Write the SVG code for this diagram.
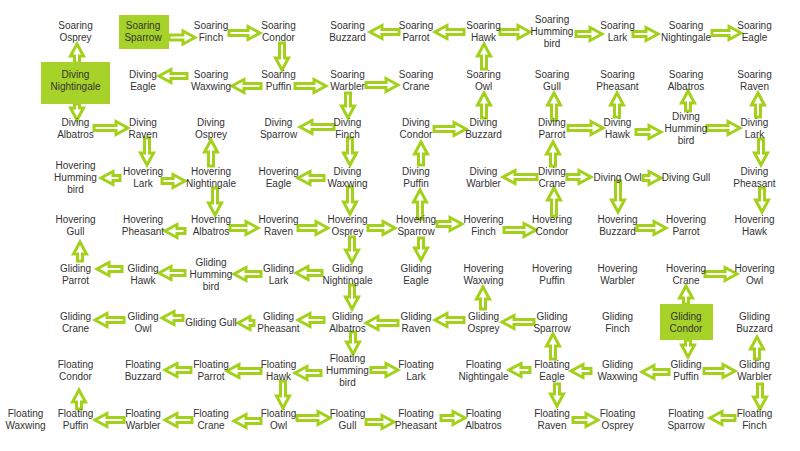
<svg xmlns="http://www.w3.org/2000/svg" width="800" height="451" viewBox="0 0 800 451">
<style>
.t{font-family:"Liberation Sans",Arial,sans-serif;font-size:10px;fill:#333;text-anchor:middle}
.hl{fill:#a6d22a}
.a{fill:#fff;stroke:#a3d11b;stroke-width:3;stroke-linejoin:miter}
</style>
<rect width="800" height="451" fill="#fff"/>
<g id="connectors" class="a">
<path d="M169,35 h14 v-4 l12,6.5 l-12,6.5 v-4 h-14z"/>
<path d="M229,30.5 h19 v-4 l12,6.5 l-12,6.5 v-4 h-19z"/>
<path d="M399,29.5 h-17 v-4 l-12,6.5 l12,6.5 v-4 h17z"/>
<path d="M464,29.5 h-17 v-4 l-12,6.5 l12,6.5 v-4 h17z"/>
<path d="M500,29.5 h18 v-4 l12,6.5 l-12,6.5 v-4 h-18z"/>
<path d="M576,31.5 h14 v-4 l12,6.5 l-12,6.5 v-4 h-14z"/>
<path d="M633,31.5 h13 v-4 l12,6.5 l-12,6.5 v-4 h-13z"/>
<path d="M712,30.5 h17 v-4 l12,6.5 l-12,6.5 v-4 h-17z"/>
<path d="M74.5,63 v-7 h-4 l6.5,-12 l6.5,12 h-4 v7z"/>
<path d="M279.5,43 v15 h-4 l6.5,12 l6.5,-12 h-4 v-15z"/>
<path d="M481.5,69 v-13 h-4 l6.5,-12 l6.5,12 h-4 v13z"/>
<path d="M187,73.5 h-16 v-4 l-12,6.5 l12,6.5 v-4 h16z"/>
<path d="M261,83.5 h-17 v-4 l-12,6.5 l12,6.5 v-4 h17z"/>
<path d="M295,83.5 h19 v-4 l12,6.5 l-12,6.5 v-4 h-19z"/>
<path d="M366,82.5 h20 v-4 l12,6.5 l-12,6.5 v-4 h-20z"/>
<path d="M74.5,104 v4 h-4 l6.5,12 l6.5,-12 h-4 v-4z"/>
<path d="M345.5,93 v13 h-4 l6.5,12 l6.5,-12 h-4 v-13z"/>
<path d="M481.5,118 v-13 h-4 l6.5,-12 l6.5,12 h-4 v13z"/>
<path d="M551.5,120 v-15 h-4 l6.5,-12 l6.5,12 h-4 v15z"/>
<path d="M614.5,117 v-12 h-4 l6.5,-12 l6.5,12 h-4 v12z"/>
<path d="M685.5,111 v-8 h-4 l6.5,-12 l6.5,12 h-4 v8z"/>
<path d="M755.5,117 v-12 h-4 l6.5,-12 l6.5,12 h-4 v12z"/>
<path d="M94,125.5 h22 v-4 l12,6.5 l-12,6.5 v-4 h-22z"/>
<path d="M334,124.5 h-22 v-4 l-12,6.5 l12,6.5 v-4 h22z"/>
<path d="M434,126.5 h20 v-4 l12,6.5 l-12,6.5 v-4 h-20z"/>
<path d="M568,125.5 h23 v-4 l12,6.5 l-12,6.5 v-4 h-23z"/>
<path d="M636,129.5 h13 v-4 l12,6.5 l-12,6.5 v-4 h-13z"/>
<path d="M707,125.5 h21 v-4 l12,6.5 l-12,6.5 v-4 h-21z"/>
<path d="M144.5,138 v15 h-4 l6.5,12 l6.5,-12 h-4 v-15z"/>
<path d="M208.5,166 v-14 h-4 l6.5,-12 l6.5,12 h-4 v14z"/>
<path d="M347.5,138 v15 h-4 l6.5,12 l6.5,-12 h-4 v-15z"/>
<path d="M418.5,165 v-11 h-4 l6.5,-12 l6.5,12 h-4 v11z"/>
<path d="M550.5,166 v-12 h-4 l6.5,-12 l6.5,12 h-4 v12z"/>
<path d="M758.5,139 v14 h-4 l6.5,12 l6.5,-12 h-4 v-14z"/>
<path d="M120,175.5 h-7 v-4 l-12,6.5 l12,6.5 v-4 h7z"/>
<path d="M162,178.5 h11 v-4 l12,6.5 l-12,6.5 v-4 h-11z"/>
<path d="M324,175.5 h-14 v-4 l-12,6.5 l12,6.5 v-4 h14z"/>
<path d="M537,174.5 h-22 v-4 l-12,6.5 l12,6.5 v-4 h22z"/>
<path d="M567,174.5 h12 v-4 l12,6.5 l-12,6.5 v-4 h-12z"/>
<path d="M643,175.5 h6 v-4 l12,6.5 l-12,6.5 v-4 h-6z"/>
<path d="M212.5,188 v15 h-4 l6.5,12 l6.5,-12 h-4 v-15z"/>
<path d="M347.5,187 v15 h-4 l6.5,12 l6.5,-12 h-4 v-15z"/>
<path d="M417.5,219 v-17 h-4 l6.5,-12 l6.5,12 h-4 v17z"/>
<path d="M551.5,216 v-16 h-4 l6.5,-12 l6.5,12 h-4 v16z"/>
<path d="M615.5,181 v19 h-4 l6.5,12 l6.5,-12 h-4 v-19z"/>
<path d="M759.5,188 v12 h-4 l6.5,12 l6.5,-12 h-4 v-12z"/>
<path d="M185,228.5 h-8 v-4 l-12,6.5 l12,6.5 v-4 h8z"/>
<path d="M230,225.5 h16 v-4 l12,6.5 l-12,6.5 v-4 h-16z"/>
<path d="M298,225.5 h18 v-4 l12,6.5 l-12,6.5 v-4 h-18z"/>
<path d="M368,225.5 h15 v-4 l12,6.5 l-12,6.5 v-4 h-15z"/>
<path d="M437,221.5 h13 v-4 l12,6.5 l-12,6.5 v-4 h-13z"/>
<path d="M504,227.5 h20 v-4 l12,6.5 l-12,6.5 v-4 h-20z"/>
<path d="M637,225.5 h17 v-4 l12,6.5 l-12,6.5 v-4 h-17z"/>
<path d="M77.5,261 v-7 h-4 l6.5,-12 l6.5,12 h-4 v7z"/>
<path d="M349.5,237 v13 h-4 l6.5,12 l6.5,-12 h-4 v-13z"/>
<path d="M418.5,238 v10 h-4 l6.5,12 l6.5,-12 h-4 v-10z"/>
<path d="M122,266.5 h-13 v-4 l-12,6.5 l12,6.5 v-4 h13z"/>
<path d="M185,270.5 h-14 v-4 l-12,6.5 l12,6.5 v-4 h14z"/>
<path d="M261,271.5 h-15 v-4 l-12,6.5 l12,6.5 v-4 h15z"/>
<path d="M322,270.5 h-14 v-4 l-12,6.5 l12,6.5 v-4 h14z"/>
<path d="M705,271.5 h20 v-4 l12,6.5 l-12,6.5 v-4 h-20z"/>
<path d="M349.5,285 v12 h-4 l6.5,12 l6.5,-12 h-4 v-12z"/>
<path d="M480.5,309 v-10 h-4 l6.5,-12 l6.5,12 h-4 v10z"/>
<path d="M683.5,304 v-6 h-4 l6.5,-12 l6.5,12 h-4 v6z"/>
<path d="M124,317.5 h-17 v-4 l-12,6.5 l12,6.5 v-4 h17z"/>
<path d="M183,315.5 h-9 v-4 l-12,6.5 l12,6.5 v-4 h9z"/>
<path d="M254,320.5 h-4 v-4 l-12,6.5 l12,6.5 v-4 h4z"/>
<path d="M324,317.5 h-14 v-4 l-12,6.5 l12,6.5 v-4 h14z"/>
<path d="M398,320.5 h-20 v-4 l-12,6.5 l12,6.5 v-4 h20z"/>
<path d="M464,317.5 h-17 v-4 l-12,6.5 l12,6.5 v-4 h17z"/>
<path d="M534,319.5 h-20 v-4 l-12,6.5 l12,6.5 v-4 h20z"/>
<path d="M350.5,332 v10 h-4 l6.5,12 l6.5,-12 h-4 v-10z"/>
<path d="M550.5,359 v-13 h-4 l6.5,-12 l6.5,12 h-4 v13z"/>
<path d="M685.5,340 v5 h-4 l6.5,12 l6.5,-12 h-4 v-5z"/>
<path d="M754.5,359 v-10 h-4 l6.5,-12 l6.5,12 h-4 v10z"/>
<path d="M191,367.5 h-14 v-4 l-12,6.5 l12,6.5 v-4 h14z"/>
<path d="M261,368.5 h-22 v-4 l-12,6.5 l12,6.5 v-4 h22z"/>
<path d="M321,370.5 h-14 v-4 l-12,6.5 l12,6.5 v-4 h14z"/>
<path d="M371,367.5 h15 v-4 l12,6.5 l-12,6.5 v-4 h-15z"/>
<path d="M530,367.5 h-9 v-4 l-12,6.5 l12,6.5 v-4 h9z"/>
<path d="M591,368.5 h-8 v-4 l-12,6.5 l12,6.5 v-4 h8z"/>
<path d="M669,369.5 h-15 v-4 l-12,6.5 l12,6.5 v-4 h15z"/>
<path d="M704,368.5 h19 v-4 l12,6.5 l-12,6.5 v-4 h-19z"/>
<path d="M76.5,409 v-7 h-4 l6.5,-12 l6.5,12 h-4 v7z"/>
<path d="M280.5,381 v15 h-4 l6.5,12 l6.5,-12 h-4 v-15z"/>
<path d="M554.5,384 v10 h-4 l6.5,12 l6.5,-12 h-4 v-10z"/>
<path d="M757.5,384 v13 h-4 l6.5,12 l6.5,-12 h-4 v-13z"/>
<path d="M124,417.5 h-17 v-4 l-12,6.5 l12,6.5 v-4 h17z"/>
<path d="M192,417.5 h-15 v-4 l-12,6.5 l12,6.5 v-4 h15z"/>
<path d="M261,418.5 h-15 v-4 l-12,6.5 l12,6.5 v-4 h15z"/>
<path d="M297,415.5 h21 v-4 l12,6.5 l-12,6.5 v-4 h-21z"/>
<path d="M366,419.5 h16 v-4 l12,6.5 l-12,6.5 v-4 h-16z"/>
<path d="M441,415.5 h12 v-4 l12,6.5 l-12,6.5 v-4 h-12z"/>
<path d="M573,417.5 h13 v-4 l12,6.5 l-12,6.5 v-4 h-13z"/>
<path d="M735,415.5 h-13 v-4 l-12,6.5 l12,6.5 v-4 h13z"/>
</g>
<g id="nodes" class="t">
<!-- row 0 -->
<g id="soaring-osprey"><text x="75.5" y="29.3">Soaring<tspan x="75.5" dy="12">Osprey</tspan></text></g>
<g id="soaring-sparrow"><rect class="hl" x="119" y="15" width="50" height="34"/><text x="143" y="29.3">Soaring<tspan x="143" dy="12">Sparrow</tspan></text></g>
<g id="soaring-finch"><text x="211" y="29.3">Soaring<tspan x="211" dy="12">Finch</tspan></text></g>
<g id="soaring-condor"><text x="278.5" y="29.3">Soaring<tspan x="278.5" dy="12">Condor</tspan></text></g>
<g id="soaring-buzzard"><text x="347.5" y="29.3">Soaring<tspan x="347.5" dy="12">Buzzard</tspan></text></g>
<g id="soaring-parrot"><text x="416" y="29.3">Soaring<tspan x="416" dy="12">Parrot</tspan></text></g>
<g id="soaring-hawk"><text x="483.5" y="29.3">Soaring<tspan x="483.5" dy="12">Hawk</tspan></text></g>
<g id="soaring-hummingbird"><text x="552" y="23.3">Soaring<tspan x="552" dy="12">Humming</tspan><tspan x="552" dy="12">bird</tspan></text></g>
<g id="soaring-lark"><text x="617.5" y="29.3">Soaring<tspan x="617.5" dy="12">Lark</tspan></text></g>
<g id="soaring-nightingale"><text x="686" y="29.3">Soaring<tspan x="686" dy="12">Nightingale</tspan></text></g>
<g id="soaring-eagle"><text x="754.5" y="29.3">Soaring<tspan x="754.5" dy="12">Eagle</tspan></text></g>
<!-- row 1 -->
<g id="diving-nightingale"><rect class="hl" x="41" y="62" width="69" height="42"/><text x="75.5" y="77.75">Diving<tspan x="75.5" dy="12">Nightingale</tspan></text></g>
<g id="diving-eagle"><text x="143" y="77.75">Diving<tspan x="143" dy="12">Eagle</tspan></text></g>
<g id="soaring-waxwing"><text x="211" y="77.75">Soaring<tspan x="211" dy="12">Waxwing</tspan></text></g>
<g id="soaring-puffin"><text x="278.5" y="77.75">Soaring<tspan x="278.5" dy="12">Puffin</tspan></text></g>
<g id="soaring-warbler"><text x="347.5" y="77.75">Soaring<tspan x="347.5" dy="12">Warbler</tspan></text></g>
<g id="soaring-crane"><text x="416" y="77.75">Soaring<tspan x="416" dy="12">Crane</tspan></text></g>
<g id="soaring-owl"><text x="483.5" y="77.75">Soaring<tspan x="483.5" dy="12">Owl</tspan></text></g>
<g id="soaring-gull"><text x="552" y="77.75">Soaring<tspan x="552" dy="12">Gull</tspan></text></g>
<g id="soaring-pheasant"><text x="617.5" y="77.75">Soaring<tspan x="617.5" dy="12">Pheasant</tspan></text></g>
<g id="soaring-albatros"><text x="686" y="77.75">Soaring<tspan x="686" dy="12">Albatros</tspan></text></g>
<g id="soaring-raven"><text x="754.5" y="77.75">Soaring<tspan x="754.5" dy="12">Raven</tspan></text></g>
<!-- row 2 -->
<g id="diving-albatros"><text x="75.5" y="126.2">Diving<tspan x="75.5" dy="12">Albatros</tspan></text></g>
<g id="diving-raven"><text x="143" y="126.2">Diving<tspan x="143" dy="12">Raven</tspan></text></g>
<g id="diving-osprey"><text x="211" y="126.2">Diving<tspan x="211" dy="12">Osprey</tspan></text></g>
<g id="diving-sparrow"><text x="278.5" y="126.2">Diving<tspan x="278.5" dy="12">Sparrow</tspan></text></g>
<g id="diving-finch"><text x="347.5" y="126.2">Diving<tspan x="347.5" dy="12">Finch</tspan></text></g>
<g id="diving-condor"><text x="416" y="126.2">Diving<tspan x="416" dy="12">Condor</tspan></text></g>
<g id="diving-buzzard"><text x="483.5" y="126.2">Diving<tspan x="483.5" dy="12">Buzzard</tspan></text></g>
<g id="diving-parrot"><text x="552" y="126.2">Diving<tspan x="552" dy="12">Parrot</tspan></text></g>
<g id="diving-hawk"><text x="617.5" y="126.2">Diving<tspan x="617.5" dy="12">Hawk</tspan></text></g>
<g id="diving-hummingbird"><text x="686" y="120.2">Diving<tspan x="686" dy="12">Humming</tspan><tspan x="686" dy="12">bird</tspan></text></g>
<g id="diving-lark"><text x="754.5" y="126.2">Diving<tspan x="754.5" dy="12">Lark</tspan></text></g>
<!-- row 3 -->
<g id="hovering-hummingbird"><text x="75.5" y="168.65">Hovering<tspan x="75.5" dy="12">Humming</tspan><tspan x="75.5" dy="12">bird</tspan></text></g>
<g id="hovering-lark"><text x="143" y="174.65">Hovering<tspan x="143" dy="12">Lark</tspan></text></g>
<g id="hovering-nightingale"><text x="211" y="174.65">Hovering<tspan x="211" dy="12">Nightingale</tspan></text></g>
<g id="hovering-eagle"><text x="278.5" y="174.65">Hovering<tspan x="278.5" dy="12">Eagle</tspan></text></g>
<g id="diving-waxwing"><text x="347.5" y="174.65">Diving<tspan x="347.5" dy="12">Waxwing</tspan></text></g>
<g id="diving-puffin"><text x="416" y="174.65">Diving<tspan x="416" dy="12">Puffin</tspan></text></g>
<g id="diving-warbler"><text x="483.5" y="174.65">Diving<tspan x="483.5" dy="12">Warbler</tspan></text></g>
<g id="diving-crane"><text x="552" y="174.65">Diving<tspan x="552" dy="12">Crane</tspan></text></g>
<g id="diving-owl"><text x="617.5" y="180.65">Diving Owl</text></g>
<g id="diving-gull"><text x="686" y="180.65">Diving Gull</text></g>
<g id="diving-pheasant"><text x="754.5" y="174.65">Diving<tspan x="754.5" dy="12">Pheasant</tspan></text></g>
<!-- row 4 -->
<g id="hovering-gull"><text x="75.5" y="223.1">Hovering<tspan x="75.5" dy="12">Gull</tspan></text></g>
<g id="hovering-pheasant"><text x="143" y="223.1">Hovering<tspan x="143" dy="12">Pheasant</tspan></text></g>
<g id="hovering-albatros"><text x="211" y="223.1">Hovering<tspan x="211" dy="12">Albatros</tspan></text></g>
<g id="hovering-raven"><text x="278.5" y="223.1">Hovering<tspan x="278.5" dy="12">Raven</tspan></text></g>
<g id="hovering-osprey"><text x="347.5" y="223.1">Hovering<tspan x="347.5" dy="12">Osprey</tspan></text></g>
<g id="hovering-sparrow"><text x="416" y="223.1">Hovering<tspan x="416" dy="12">Sparrow</tspan></text></g>
<g id="hovering-finch"><text x="483.5" y="223.1">Hovering<tspan x="483.5" dy="12">Finch</tspan></text></g>
<g id="hovering-condor"><text x="552" y="223.1">Hovering<tspan x="552" dy="12">Condor</tspan></text></g>
<g id="hovering-buzzard"><text x="617.5" y="223.1">Hovering<tspan x="617.5" dy="12">Buzzard</tspan></text></g>
<g id="hovering-parrot"><text x="686" y="223.1">Hovering<tspan x="686" dy="12">Parrot</tspan></text></g>
<g id="hovering-hawk"><text x="754.5" y="223.1">Hovering<tspan x="754.5" dy="12">Hawk</tspan></text></g>
<!-- row 5 -->
<g id="gliding-parrot"><text x="75.5" y="271.55">Gliding<tspan x="75.5" dy="12">Parrot</tspan></text></g>
<g id="gliding-hawk"><text x="143" y="271.55">Gliding<tspan x="143" dy="12">Hawk</tspan></text></g>
<g id="gliding-hummingbird"><text x="211" y="265.55">Gliding<tspan x="211" dy="12">Humming</tspan><tspan x="211" dy="12">bird</tspan></text></g>
<g id="gliding-lark"><text x="278.5" y="271.55">Gliding<tspan x="278.5" dy="12">Lark</tspan></text></g>
<g id="gliding-nightingale"><text x="347.5" y="271.55">Gliding<tspan x="347.5" dy="12">Nightingale</tspan></text></g>
<g id="gliding-eagle"><text x="416" y="271.55">Gliding<tspan x="416" dy="12">Eagle</tspan></text></g>
<g id="hovering-waxwing"><text x="483.5" y="271.55">Hovering<tspan x="483.5" dy="12">Waxwing</tspan></text></g>
<g id="hovering-puffin"><text x="552" y="271.55">Hovering<tspan x="552" dy="12">Puffin</tspan></text></g>
<g id="hovering-warbler"><text x="617.5" y="271.55">Hovering<tspan x="617.5" dy="12">Warbler</tspan></text></g>
<g id="hovering-crane"><text x="686" y="271.55">Hovering<tspan x="686" dy="12">Crane</tspan></text></g>
<g id="hovering-owl"><text x="754.5" y="271.55">Hovering<tspan x="754.5" dy="12">Owl</tspan></text></g>
<!-- row 6 -->
<g id="gliding-crane"><text x="75.5" y="320">Gliding<tspan x="75.5" dy="12">Crane</tspan></text></g>
<g id="gliding-owl"><text x="143" y="320">Gliding<tspan x="143" dy="12">Owl</tspan></text></g>
<g id="gliding-gull"><text x="211" y="326">Gliding Gull</text></g>
<g id="gliding-pheasant"><text x="278.5" y="320">Gliding<tspan x="278.5" dy="12">Pheasant</tspan></text></g>
<g id="gliding-albatros"><text x="347.5" y="320">Gliding<tspan x="347.5" dy="12">Albatros</tspan></text></g>
<g id="gliding-raven"><text x="416" y="320">Gliding<tspan x="416" dy="12">Raven</tspan></text></g>
<g id="gliding-osprey"><text x="483.5" y="320">Gliding<tspan x="483.5" dy="12">Osprey</tspan></text></g>
<g id="gliding-sparrow"><text x="552" y="320">Gliding<tspan x="552" dy="12">Sparrow</tspan></text></g>
<g id="gliding-finch"><text x="617.5" y="320">Gliding<tspan x="617.5" dy="12">Finch</tspan></text></g>
<g id="gliding-condor"><rect class="hl" x="660" y="304" width="53" height="36"/><text x="686" y="320">Gliding<tspan x="686" dy="12">Condor</tspan></text></g>
<g id="gliding-buzzard"><text x="754.5" y="320">Gliding<tspan x="754.5" dy="12">Buzzard</tspan></text></g>
<!-- row 7 -->
<g id="floating-condor"><text x="75.5" y="368.45">Floating<tspan x="75.5" dy="12">Condor</tspan></text></g>
<g id="floating-buzzard"><text x="143" y="368.45">Floating<tspan x="143" dy="12">Buzzard</tspan></text></g>
<g id="floating-parrot"><text x="211" y="368.45">Floating<tspan x="211" dy="12">Parrot</tspan></text></g>
<g id="floating-hawk"><text x="278.5" y="368.45">Floating<tspan x="278.5" dy="12">Hawk</tspan></text></g>
<g id="floating-hummingbird"><text x="347.5" y="362.45">Floating<tspan x="347.5" dy="12">Humming</tspan><tspan x="347.5" dy="12">bird</tspan></text></g>
<g id="floating-lark"><text x="416" y="368.45">Floating<tspan x="416" dy="12">Lark</tspan></text></g>
<g id="floating-nightingale"><text x="483.5" y="368.45">Floating<tspan x="483.5" dy="12">Nightingale</tspan></text></g>
<g id="floating-eagle"><text x="552" y="368.45">Floating<tspan x="552" dy="12">Eagle</tspan></text></g>
<g id="gliding-waxwing"><text x="617.5" y="368.45">Gliding<tspan x="617.5" dy="12">Waxwing</tspan></text></g>
<g id="gliding-puffin"><text x="686" y="368.45">Gliding<tspan x="686" dy="12">Puffin</tspan></text></g>
<g id="gliding-warbler"><text x="754.5" y="368.45">Gliding<tspan x="754.5" dy="12">Warbler</tspan></text></g>
<!-- row 8 -->
<g id="floating-waxwing"><text x="25.5" y="416.9">Floating<tspan x="25.5" dy="12">Waxwing</tspan></text></g>
<g id="floating-puffin"><text x="75.5" y="416.9">Floating<tspan x="75.5" dy="12">Puffin</tspan></text></g>
<g id="floating-warbler"><text x="143" y="416.9">Floating<tspan x="143" dy="12">Warbler</tspan></text></g>
<g id="floating-crane"><text x="211" y="416.9">Floating<tspan x="211" dy="12">Crane</tspan></text></g>
<g id="floating-owl"><text x="278.5" y="416.9">Floating<tspan x="278.5" dy="12">Owl</tspan></text></g>
<g id="floating-gull"><text x="347.5" y="416.9">Floating<tspan x="347.5" dy="12">Gull</tspan></text></g>
<g id="floating-pheasant"><text x="416" y="416.9">Floating<tspan x="416" dy="12">Pheasant</tspan></text></g>
<g id="floating-albatros"><text x="483.5" y="416.9">Floating<tspan x="483.5" dy="12">Albatros</tspan></text></g>
<g id="floating-raven"><text x="552" y="416.9">Floating<tspan x="552" dy="12">Raven</tspan></text></g>
<g id="floating-osprey"><text x="617.5" y="416.9">Floating<tspan x="617.5" dy="12">Osprey</tspan></text></g>
<g id="floating-sparrow"><text x="686" y="416.9">Floating<tspan x="686" dy="12">Sparrow</tspan></text></g>
<g id="floating-finch"><text x="754.5" y="416.9">Floating<tspan x="754.5" dy="12">Finch</tspan></text></g>
</g>
</svg>
